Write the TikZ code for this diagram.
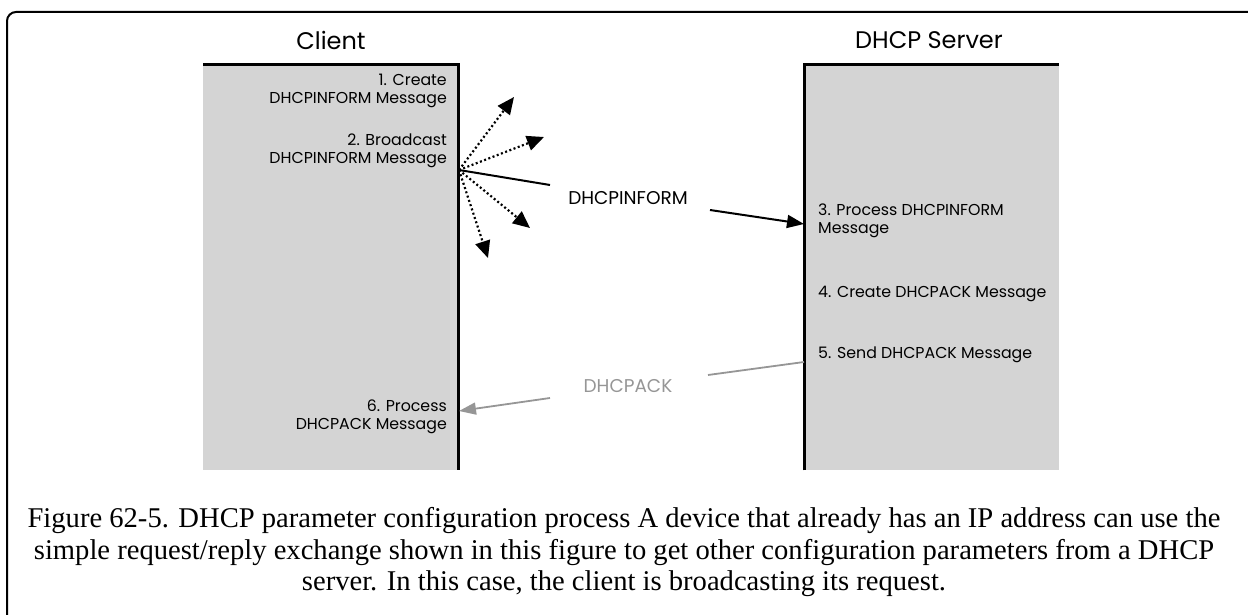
\documentclass[tikz,border=0pt]{standalone}
\usepackage{fontspec}
\setmainfont{Liberation Serif}
\newfontfamily\futura{Poppins}
\usetikzlibrary{arrows.meta}
\definecolor{boxgray}{RGB}{212,212,212}
\definecolor{ackgray}{RGB}{150,150,150}
\tikzset{
  boxfill/.style={fill=boxgray, draw=none, minimum width=255pt, minimum height=405pt, anchor=north west, inner sep=0pt},
  border/.style={line width=3pt, black},
  title/.style={font=\futura\fontsize{24}{26}\selectfont, inner sep=0pt},
  steptxt/.style={font=\futura\fontsize{15.8}{18}\selectfont, inner sep=0pt, align=left},
  steptxtr/.style={font=\futura\fontsize{15.8}{18}\selectfont, inner sep=0pt, align=right},
  msgtxt/.style={font=\futura\fontsize{18.5}{20}\selectfont, inner sep=0pt},
  dotarrow/.style={line width=2.2pt, dash pattern=on 2pt off 2.5pt, -{Triangle[length=17pt,width=15pt]}},
  solidarrow/.style={line width=2pt, -{Triangle[length=17pt,width=13pt]}},
  ackarrow/.style={line width=1.8pt, ackgray, -{Triangle[length=17pt,width=12pt]}},
  caption/.style={font=\fontsize{28.6}{31.5}\selectfont, inner sep=0pt, align=center}
}
\begin{document}
\begin{tikzpicture}[x=1pt,y=-1pt]
\useasboundingbox (0,0) rectangle (1248,615);
% outer frame
\draw[line width=2pt, rounded corners=9pt] (1262,12) -- (7,12) -- (7,630);
% boxes
\node[boxfill] (client) at (203,65) {};
\node[boxfill] (server) at (804,65) {};
\draw[border] (client.north west) -- (client.north east) -- (client.south east);
\draw[border] (server.south west) -- (server.north west) -- (server.north east);
% titles
\node[title] (tclient) at (331,40) {Client};
\node[title] (tserver) at (929,40) {DHCP Server};
% client steps
\node[steptxtr, anchor=north east] (s1) at (447,74) {1. Create\\DHCPINFORM Message};
\node[steptxtr, anchor=north east] (s2) at (447,134) {2. Broadcast\\DHCPINFORM Message};
\node[steptxtr, anchor=north east] (s6) at (447,400) {6. Process\\DHCPACK Message};
% server steps
\node[steptxt, anchor=north west] (s3) at (818,204) {3. Process DHCPINFORM\\Message};
\node[steptxt, anchor=north west] (s4) at (818,286) {4. Create DHCPACK Message};
\node[steptxt, anchor=north west] (s5) at (818,347) {5. Send DHCPACK Message};
% messages
\node[msgtxt] (inform) at (628,198) {DHCPINFORM};
\node[msgtxt, text=ackgray] (ack) at (628,386) {DHCPACK};
% coordinates
\coordinate (bc) at (459,170);
\coordinate (d1) at (514,97);
\coordinate (d2) at (544,137);
\coordinate (d3) at (530,228);
\coordinate (d4) at (488,258);
\coordinate (i1) at (550,185);
\coordinate (i2) at (710,210);
\coordinate (i3) at (804,224);
\coordinate (a1) at (804,362);
\coordinate (a2) at (708,375);
\coordinate (a3) at (550,398);
\coordinate (a4) at (459,411);
% broadcast arrows
\draw[dotarrow] (bc) -- (d1);
\draw[dotarrow] (bc) -- (d2);
\draw[dotarrow] (bc) -- (d3);
\draw[dotarrow] (bc) -- (d4);
\draw[line width=2pt] (bc) -- (i1);
\draw[solidarrow] (i2) -- (i3);
\draw[line width=1.8pt, ackgray] (a1) -- (a2);
\draw[ackarrow] (a3) -- (a4);
% caption
\node[caption] (cap1) at (624,521) {Figure 62-5. DHCP parameter configuration process A device that already has an IP address can use the};
\node[caption] (cap2) at (624,553) {simple request/reply exchange shown in this figure to get other configuration parameters from a DHCP};
\node[caption] (cap3) at (624,584) {server. In this case, the client is broadcasting its request.};
\end{tikzpicture}
\end{document}
